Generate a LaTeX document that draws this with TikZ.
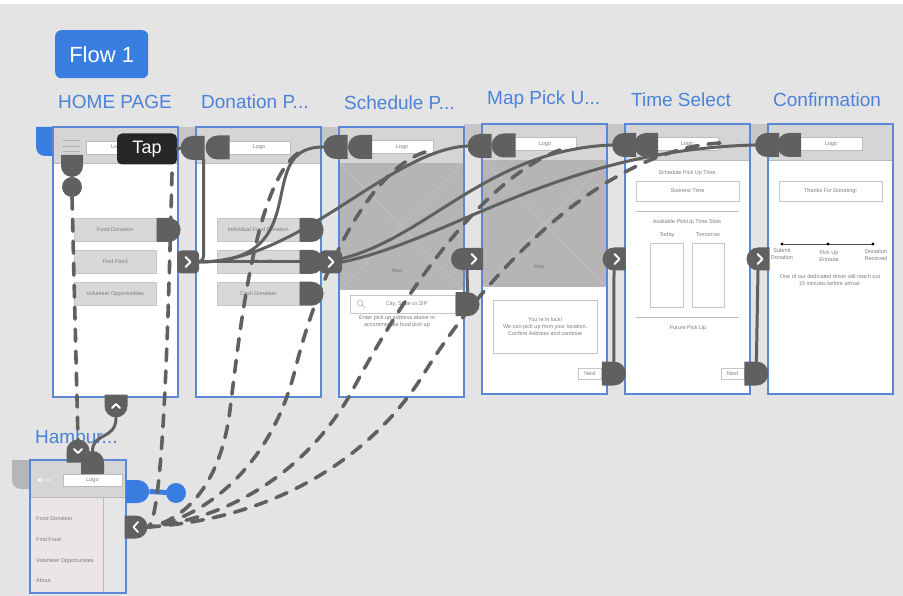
\documentclass[tikz,border=0pt]{standalone}
\usepackage{fontspec}
\setmainfont{Liberation Sans}
\usetikzlibrary{shapes.misc, positioning}

\definecolor{canvas}{HTML}{E4E4E4}
\definecolor{xdblue}{HTML}{3A7DE0}
\definecolor{edgeblue}{HTML}{5A88D6}
\definecolor{titleblue}{HTML}{4C82D8}
\definecolor{hdrgray}{HTML}{D5D5D5}
\definecolor{hdrline}{HTML}{BBBBBB}
\definecolor{mapgray}{HTML}{B5B5B5}
\definecolor{mapline}{HTML}{C6C6C6}
\definecolor{btngray}{HTML}{D8D8D8}
\definecolor{wiregray}{HTML}{606060}
\definecolor{txtgray}{HTML}{7C7C7C}
\definecolor{tabgray}{HTML}{C6C6C6}
\definecolor{menupink}{HTML}{ECE5E5}
\definecolor{menurest}{HTML}{E6E6E6}

\begin{document}
\begin{tikzpicture}[
    x=1pt, y=-1pt,
    artboard/.style={draw=edgeblue, line width=1.4pt},
    title/.style={anchor=west, text=titleblue, font=\fontsize{19}{21}\selectfont, inner sep=0pt},
    uitext/.style={text=txtgray, font=\fontsize{5.5}{7}\selectfont, inner sep=0pt, align=center},
    logo/.style={uitext, draw=hdrline, fill=white, minimum width=62pt, minimum height=13pt},
    btn/.style={uitext, fill=btngray, draw=tabgray, minimum width=82pt, minimum height=23.5pt, anchor=north west},
    field/.style={uitext, draw=tabgray, fill=white},
    wire/.style={draw=wiregray, line width=3pt, line cap=round},
    dwire/.style={wire, line width=3.6pt, dash pattern=on 12pt off 10pt},
    hR/.style={rounded rectangle, rounded rectangle left arc=none, fill=wiregray, minimum width=22pt, minimum height=24pt, inner sep=0pt},
    hL/.style={rounded rectangle, rounded rectangle right arc=none, fill=wiregray, minimum width=23pt, minimum height=24pt, inner sep=0pt},
    nextbtn/.style={fill=wiregray, rounded corners=4pt, minimum width=22pt, minimum height=23pt, inner sep=0pt},
    chev/.style={draw=white, line width=1.8pt, line cap=round, line join=round}
]

% Canvas
\fill[canvas] (0,0) rectangle (903,596);
\fill[white] (0,0) rectangle (903,4);
\useasboundingbox (0,0) rectangle (903,596);

\node[fill=xdblue, rounded corners=6pt, text=white, font=\fontsize{22}{24}\selectfont, minimum width=93pt, minimum height=48pt, anchor=north west] (flow) at (55,30) {Flow 1};

% Tabs behind the artboards
\fill[xdblue] (70,127) -- (36,127) [rounded corners=9pt] -- (36,156) -- (70,156) -- cycle;
\foreach \x/\y in {178/127, 321/127, 464/124, 607/124, 750/124}
    \fill[tabgray] (\x,\y) rectangle +(18,21);
\fill[tabgray!92!black] (45,460) -- (12,460) [rounded corners=9pt] -- (12,489) -- (45,489) -- cycle;

% Artboards
\foreach \x/\y in {53/127, 196/127, 339/127, 482/124, 625/124, 768/124} {
    \fill[white] (\x,\y) rectangle +(125,270);
    \fill[hdrgray] (\x,\y) rectangle +(125,36);
    \draw[hdrline, line width=0.6pt] (\x,\y+36) -- +(125,0);
}
\foreach \x/\y in {340/163, 483/160} {
    \fill[mapgray] (\x,\y) rectangle +(123,127);
    \draw[mapline, line width=0.5pt] (\x,\y) -- +(123,127) (\x+123,\y) -- +(-123,127);
}
\fill[hdrgray] (30,460) rectangle (126,497);
\fill[menupink] (30,497) rectangle (103,593);
\fill[menurest] (103,497) rectangle (126,593);
\draw[hdrline, line width=0.6pt] (30,497) -- (126,497) (103,497) -- (103,593);

% Home page
\foreach \yy in {141,146.5,152}
    \draw[txtgray!60, line width=1pt] (63,\yy) -- (80,\yy);
\node[logo, anchor=west] (homeLogo) at (86,147.5) {Logo};
\node[btn] (bFood) at (74,218) {Food Donation};
\node[btn, below=8pt of bFood] (bFind) {Find Food};
\node[btn, below=8pt of bFind] (bVol) {Volunteer Opportunities};

% Donation page
\node[logo] (donLogo) at (259,147.5) {Logo};
\node[btn] (bIndiv) at (217,218) {Individual Food Donation};
\node[btn, below=8pt of bIndiv] (bRest) {Restaurant Food Provider};
\node[btn, below=8pt of bRest] (bCash) {Cash Donation};

% Schedule page
\node[logo] (schLogo) at (402,147) {Logo};
\node[uitext] (schMapLbl) at (397,271) {Map};
\node[field, minimum width=105pt, minimum height=18pt, anchor=north west] (search) at (350,295) {\hspace{8pt}City, State or ZIP};
\draw[txtgray!60, line width=0.6pt] (360,303) circle (3) (362.2,305.2) -- (365,308);
\node[uitext] (schHint) at (397,322) {Enter pick up address above to\\accommodate food pick up};

% Map pick up page
\node[logo] (mapLogo) at (545,144) {Logo};
\node[uitext] (mapMapLbl) at (539,267) {Map};
\node[field, minimum width=104pt, minimum height=53pt, anchor=north west] (luck) at (493,300) {You're in luck!\\We can pick up from your location.\\Confirm Address and continue};
\node[field, minimum width=23pt, minimum height=11pt] (mapNextBtn) at (590,373.5) {Next};

% Time select page
\node[logo] (timeLogo) at (687,144) {Logo};
\node[uitext] (timeHead) at (687,173) {Schedule Pick Up Time};
\node[field, minimum width=103pt, minimum height=20pt] (soonest) at (687.5,191) {Soonest Time};
\draw[hdrline, line width=0.6pt] (636,211) -- (739,211) (636,317) -- (739,317);
\node[uitext] (slots) at (687,222) {Available PickUp Time Slots};
\node[uitext] (today) at (667,235) {Today};
\node[uitext] (tomorrow) at (708,235) {Tomorrow};
\node[field, minimum width=33pt, minimum height=64pt] (todayBox) at (666.5,275) {};
\node[field, minimum width=32pt, minimum height=64pt] (tomorrowBox) at (708,275) {};
\node[uitext] (future) at (688,328) {Future Pick Up};
\node[field, minimum width=23pt, minimum height=11pt] (timeNextBtn) at (732.5,373.5) {Next};

% Confirmation page
\node[logo] (confLogo) at (831,144) {Logo};
\node[field, minimum width=103pt, minimum height=20pt] (thanks) at (830.5,191) {Thanks For Donating!};
\draw[black!70, line width=0.5pt] (782,244) -- (873,244);
\foreach \cx in {782,828,873}
    \fill[black] (\cx,244) circle (1.6);
\node[uitext] (stSubmit) at (782,254.5) {Submit\\Donation};
\node[uitext] (stEnroute) at (829,256.5) {Pick Up\\Enroute};
\node[uitext] (stReceived) at (876,255.5) {Donation\\Received};
\node[uitext] (confNote) at (830,280) {One of our dedicated driver will reach out\\15 minutes before arrival.};

% Hamburger menu
\draw[white, line width=0.8pt] (38,480) -- (51,480) (41,478) -- (38,480) -- (41,482);
\node[logo, minimum width=59pt, minimum height=12pt] (hamLogo) at (92.5,480) {Logo};
\node[uitext, anchor=west] (mFood) at (36,519) {Food Donation};
\node[uitext, anchor=west] (mFind) at (36,540) {Find Food};
\node[uitext, anchor=west] (mVol) at (36,561) {Volunteer Opportunities};
\node[uitext, anchor=west] (mAbout) at (36,581) {About};

% Artboard borders
\foreach \x/\y in {53/127, 196/127, 339/127, 482/124, 625/124, 768/124}
    \draw[artboard] (\x,\y) rectangle +(125,270);
\draw[artboard] (30,460) rectangle (126,593);

% Titles
\node[title] (tHome) at (58,102) {HOME PAGE};
\node[title] (tDon) at (201,102) {Donation P...};
\node[title] (tSch) at (344,103) {Schedule P...};
\node[title] (tMap) at (487,100) {Map Pick U...};
\node[title] (tTime) at (631,100) {Time Select};
\node[title] (tConf) at (773,100) {Confirmation};
\node[title] (tHam) at (35,437) {Hambur...};

% Handles
\node[hR, rotate=-90, minimum height=22pt] (homeMenuSrc) at (72,166) {};
\node[circle, fill=wiregray, minimum size=20pt, inner sep=0pt] (homeMenuDot) at (72,187) {};
\node[hR, anchor=west] (bFoodSrc) at (bFood.east) {};
\node[nextbtn] (homeNext) at (188,262) {};

\node[hL] (donTgtA) at (192.5,148) {};
\node[hL] (donTgtB) at (217.5,147.5) {};
\node[hR, anchor=west] (donSrcA) at (bIndiv.east) {};
\node[hR, anchor=west] (donSrcB) at (bRest.east) {};
\node[hR, anchor=west] (donSrcC) at (bCash.east) {};
\node[nextbtn] (donNext) at (331,262) {};

\node[hL] (schTgtA) at (335.5,147) {};
\node[hL] (schTgtB) at (360,147) {};
\node[hR, anchor=west] (schSrc) at (search.east) {};
\node[hL, minimum width=32pt, minimum height=22pt] (schNext) at (467,259) {};

\node[hL] (mapTgtA) at (479.5,146) {};
\node[hL] (mapTgtB) at (503.5,145.5) {};
\node[hR, anchor=west] (mapSrc) at (mapNextBtn.east) {};
\node[hL, minimum width=23pt, minimum height=23pt] (mapNext) at (614,259) {};

\node[hL] (timeTgtA) at (624,145) {};
\node[hL] (timeTgtB) at (646,145) {};
\node[hR, anchor=west] (timeSrc) at (timeNextBtn.east) {};
\node[hL, minimum width=22pt, minimum height=23pt] (timeNext) at (758,259) {};

\node[hL] (confTgtA) at (767,145) {};
\node[hL] (confTgtB) at (789,145) {};

\node[hR, rotate=-90, minimum height=23pt] (hamUp) at (116,406) {};
\node[hR, rotate=90, minimum height=23pt] (hamDown) at (78,451) {};
\node[hR, rotate=90, minimum height=23pt] (hamTgt) at (92.5,462.5) {};
\node[hR, minimum width=22pt, minimum height=23pt] (hamBack) at (136,527) {};
\node[hR, fill=xdblue, minimum width=21pt, minimum height=23pt, anchor=west] (hamBlue) at (126,491.5) {};
\node[circle, fill=xdblue, minimum size=20pt, inner sep=0pt] (hamBlueDot) at (176,493) {};

\node[fill=black!85, rounded corners=5pt, text=white, font=\fontsize{18}{20}\selectfont, minimum width=60pt, minimum height=31pt, inner sep=0pt] (tap) at (147,149) {Tap};

\coordinate (homeBack) at (172,173);
\coordinate (donBack) at (298,153);
\coordinate (schBack) at (425,152);
\coordinate (mapBack) at (560,150);
\coordinate (timeBack) at (720,143);

% Solid wires
\draw[wire] (tap.east) -- (donTgtA.west);
\draw[wire, rounded corners=6pt] (homeNext.east) -| ([xshift=-14pt]donTgtB.south);
\draw[wire] (homeNext.east) -- (donNext.west);
\draw[wire] (homeNext.east) .. controls (320,262) and (250,147) .. (schTgtA.west);
\draw[wire] (homeNext.east) .. controls (300,262) and (390,150) .. (mapTgtA.west);
\draw[wire] (donSrcB.east) .. controls (420,250) and (480,150) .. (timeTgtA.west);
\draw[wire] (donNext.east) .. controls (450,240) and (560,150) .. (confTgtA.west);
\draw[wire] (schNext.south) -- (schSrc.north);
\draw[wire] (mapNext.south) -- (mapSrc.north);
\draw[wire] (timeNext.south) -- (timeSrc.north);
\draw[wire] (hamUp.east) .. controls (116,440) and (93,432) .. (hamTgt.east);
\draw[xdblue, line width=5pt] (hamBlue.east) -- (hamBlueDot.center);

% Dashed back wires
\draw[dwire] (homeMenuDot.south) -- (hamDown.east);
\draw[dwire] (homeBack) .. controls (168,330) and (163,522) .. (hamBack.east);
\draw[dwire] (donBack) .. controls (255,185) and (240,330) .. (230,410) .. controls (220,490) and (180,522) .. (hamBack.east);
\draw[dwire] (schBack) .. controls (370,170) and (320,270) .. (295,370) .. controls (270,470) and (200,520) .. (hamBack.east);
\draw[dwire] (mapBack) .. controls (480,180) and (400,300) .. (350,395) .. controls (300,480) and (220,520) .. (hamBack.east);
\draw[dwire] (timeBack) .. controls (600,150) and (480,280) .. (420,380) .. controls (360,470) and (260,520) .. (hamBack.east);

% Chevrons
\foreach \n/\dx in {homeNext/0, donNext/0, schNext/7, mapNext/3, timeNext/2}
    \draw[chev] ([shift={({\dx-2.5},-5)}]\n.center) -- ([shift={({\dx+2.5},0)}]\n.center) -- ([shift={({\dx-2.5},5)}]\n.center);
\draw[chev] ([shift={(-4,2)}]hamUp.center) -- ([shift={(0,-2)}]hamUp.center) -- ([shift={(4,2)}]hamUp.center);
\draw[chev] ([shift={(-4,-2)}]hamDown.center) -- ([shift={(0,2)}]hamDown.center) -- ([shift={(4,-2)}]hamDown.center);
\draw[chev] ([shift={(2,-5)}]hamBack.center) -- ([shift={(-2.5,0)}]hamBack.center) -- ([shift={(2,5)}]hamBack.center);

\end{tikzpicture}
\end{document}
